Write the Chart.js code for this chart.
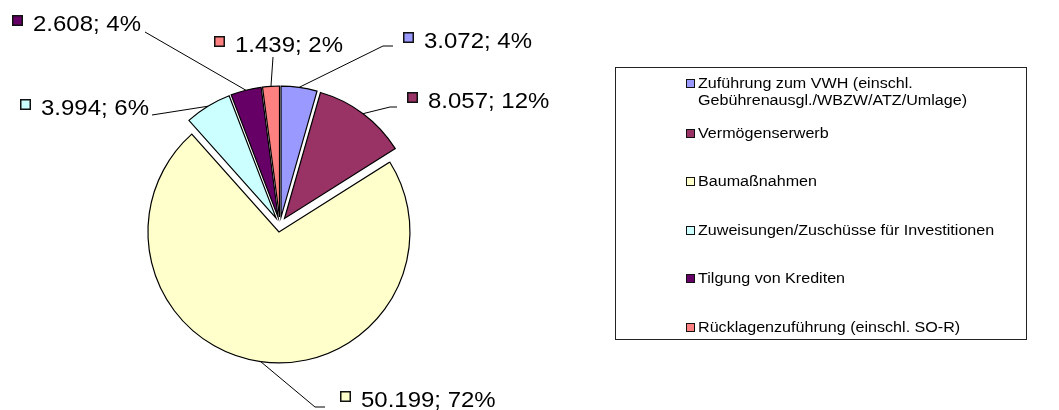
<!DOCTYPE html>
<html>
<head>
<meta charset="utf-8">
<script src="https://cdn.jsdelivr.net/npm/chart.js@4"></script>
<style>
  body { margin: 0; background: #fff; }
  #wrap { position: relative; width: 1059px; height: 410px; }
  #legend { position: absolute; left: 615px; top: 67px; width: 412px; height: 273px; border: 1px solid #222; box-sizing: border-box; font-family: "Liberation Sans", Arial, sans-serif; font-size: 14px; color: #000; }
  .item { position: absolute; left: 70px; line-height: 17px; }
  .key { position: absolute; left: 0; top: 4px; width: 9px; height: 9px; border: 1.5px solid #111; box-sizing: border-box; }
  .txt { position: absolute; left: 12px; top: 0; white-space: pre; transform: scaleX(1.15); transform-origin: left top; }
</style>
</head>
<body>
<div id="wrap">
  <canvas id="Chart" width="1059" height="410"></canvas>
  <div id="legend"></div>
</div>
<script>
const kategorien = [
  "Zuführung zum VWH (einschl.\nGebührenausgl./WBZW/ATZ/Umlage)",
  "Vermögenserwerb",
  "Baumaßnahmen",
  "Zuweisungen/Zuschüsse für Investitionen",
  "Tilgung von Krediten",
  "Rücklagenzuführung (einschl. SO-R)",
];
const werte = [3072, 8057, 50199, 3994, 2608, 1439];
const farben = ["#9999ff", "#993366", "#ffffcc", "#ccffff", "#660066", "#ff8080"];

// label placement relative to pie centre (square left x, text baseline y) and leader line points
const labelLage = [
  { pos: [123, -176.5], linie: [[103, -178.5], [113, -178.5]] },
  { pos: [127, -116.5], linie: [[110, -117.5], [117, -117.5]] },
  { pos: [60, 182.5], linie: [[35, 182.5], [45, 182.5]] },
  { pos: [-260, -109.5], linie: [[-128, -109.5]] },
  { pos: [-268, -193.5], linie: [[-135, -192.5]] },
  { pos: [-66, -172.5], linie: [[-7, -167.5]] },
];
const explodeAbstand = 7.5;

const formatZahl = (v) => String(v).replace(/\B(?=(\d{3})+(?!\d))/g, ".");
const summe = werte.reduce((a, b) => a + b, 0);

// legend (html)
const legendEl = document.getElementById("legend");
kategorien.forEach((k, i) => {
  const mitte = i === 0 ? 83 : 133 + (i - 1) * 48.5;
  const item = document.createElement("div");
  item.className = "item";
  item.style.top = mitte - 8.5 - 68 + "px";
  item.innerHTML = '<div class="key" style="background:' + farben[i] + '"></div><div class="txt"></div>';
  item.querySelector(".txt").textContent = k;
  legendEl.appendChild(item);
});

const explodePlugin = {
  id: "explode",
  afterDatasetUpdate(chart, args) {
    args.meta.data.forEach((arc) => {
      const mid = (arc.startAngle + arc.endAngle) / 2;
      arc.x += Math.cos(mid) * explodeAbstand;
      arc.y += Math.sin(mid) * explodeAbstand;
    });
  },
};

const labelPlugin = {
  id: "aussenLabels",
  afterDatasetsDraw(chart) {
    const ctx = chart.ctx;
    const meta = chart.getDatasetMeta(0);
    const cx = (chart.chartArea.left + chart.chartArea.right) / 2;
    const cy = (chart.chartArea.top + chart.chartArea.bottom) / 2;
    ctx.save();
    meta.data.forEach((arc, i) => {
      const mid = (arc.startAngle + arc.endAngle) / 2;
      const ex = arc.x + Math.cos(mid) * arc.outerRadius;
      const ey = arc.y + Math.sin(mid) * arc.outerRadius;
      const lage = labelLage[i];
      // leader line
      ctx.strokeStyle = "#000";
      ctx.lineWidth = 1;
      ctx.beginPath();
      ctx.moveTo(ex, ey);
      lage.linie.forEach((p) => ctx.lineTo(cx + p[0], cy + p[1]));
      ctx.stroke();
      // key square
      const sx = Math.round(cx + lage.pos[0]);
      const by = Math.round(cy + lage.pos[1]);
      ctx.fillStyle = farben[i];
      ctx.fillRect(sx, by - 16, 11, 11);
      ctx.lineWidth = 1.5;
      ctx.strokeStyle = "#111";
      ctx.strokeRect(sx + 0.75, by - 15.25, 9.5, 9.5);
      // text
      const txt = formatZahl(werte[i]) + "; " + Math.round((werte[i] / summe) * 100) + "%";
      ctx.fillStyle = "#000";
      ctx.font = '22px "Liberation Sans", Arial, sans-serif';
      ctx.textBaseline = "alphabetic";
      ctx.translate(sx + 21, by);
      ctx.scale(1.09, 1);
      ctx.fillText(txt, 0, 0);
      ctx.setTransform(1, 0, 0, 1, 0, 0);
    });
    ctx.restore();
  },
};

const ctx = document.getElementById("Chart").getContext("2d");
new Chart(ctx, {
  type: "pie",
  data: {
    labels: kategorien,
    datasets: [
      {
        data: werte,
        backgroundColor: farben,
        borderColor: "#000",
        borderWidth: 1.2,
        borderJoinStyle: "miter",
      },
    ],
  },
  options: {
    responsive: false,
    animation: false,
    radius: 131,
    layout: { padding: { left: 20, right: 519, top: 39, bottom: 0 } },
    plugins: {
      legend: { display: false },
      tooltip: { enabled: false },
    },
  },
  plugins: [explodePlugin, labelPlugin],
});
</script>
</body>
</html>
